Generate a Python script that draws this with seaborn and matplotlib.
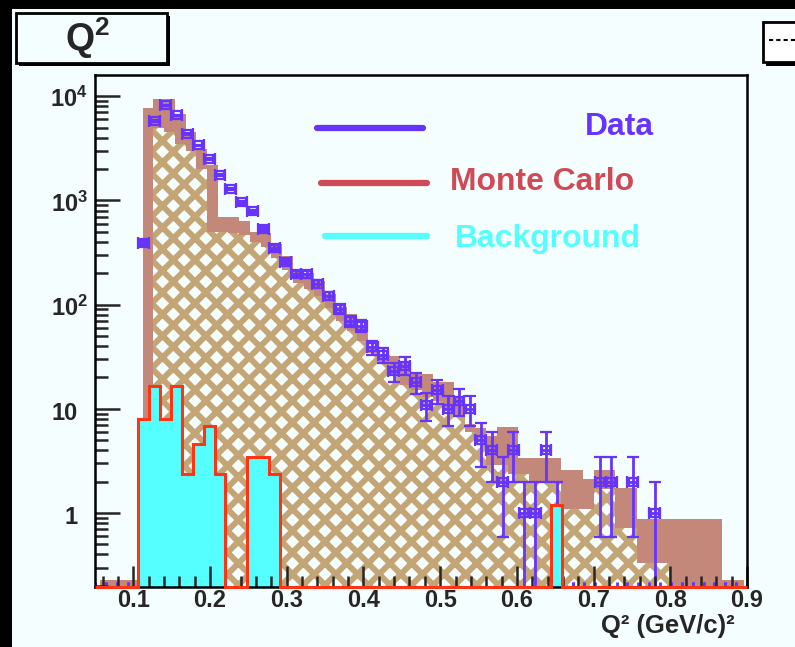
import numpy as np
import pandas as pd
import matplotlib
matplotlib.use("Agg")
import matplotlib.pyplot as plt
import matplotlib.transforms as mtransforms
from matplotlib.patches import Rectangle
from matplotlib.lines import Line2D
from matplotlib.ticker import MultipleLocator, LogLocator, NullFormatter, FormatStrFormatter
import seaborn as sns

# binning in Q^2 (GeV/c)^2
data_edges = np.linspace(0.05, 0.9, 61)
mc_edges = 0.056 + 0.014 * np.arange(61)

data_counts = [0, 0, 0, 0, 392, 5800, 8190, 6560, 4370, 3380,
               2480, 1740, 1295, 964, 784, 535, 351, 255, 197, 195,
               158, 122, 91, 70, 63, 39, 33, 23, 26, 18,
               11, 15, 10, 12, 10, 5, 4, 2, 4, 1,
               1, 4, 1, 0, 0, 0, 2, 2, 0, 2,
               0, 1, 0, 0, 0, 0, 0, 0, 0, 0]

mc_total = [0.23, 0.23, 0.23, 0.23, 7800, 9500, 9500, 6800, 4540, 3140,
            2170, 700, 690, 640, 500, 490, 384, 295, 210, 200,
            170, 126, 94, 81, 63, 40, 33, 32, 29, 21.5,
            21.5, 17.9, 17.9, 12.9, 7.1, 6.5, 5.5, 6.7, 6.7, 3.4,
            3.4, 3.4, 3.4, 2.57, 2.57, 2.1, 2.57, 2.57, 1.75, 1.75,
            0.87, 0.87, 0.87, 0.87, 0.87, 0.87, 0.87, 0.87, 0.23, 0.23]

mc_hatched = [0, 0, 0, 0, 0, 5000, 4500, 3500, 3000, 2000,
              500, 495, 490, 470, 400, 360, 280, 215, 160, 140,
              120, 92, 70, 56, 45, 34, 27, 21, 17, 15,
              13, 12, 10, 8.6, 6, 5.3, 2.9, 2.9, 2.35, 2.35,
              2.0, 2.0, 2.0, 1.09, 1.09, 1.09, 1.7, 1.7, 0.72, 0.72,
              0.33, 0.33, 0.33, 0, 0, 0, 0, 0, 0, 0]

background = [0, 0, 0, 0, 8.0, 16.6, 8.0, 16.6, 2.35, 4.6,
              6.9, 2.35, 0, 0, 3.45, 3.45, 2.35, 0, 0, 0,
              0, 0, 0, 0, 0, 0, 0, 0, 0, 0,
              0, 0, 0, 0, 0, 0, 0, 0, 0, 0,
              0, 0, 1.19, 0, 0, 0, 0, 0, 0, 0,
              0, 0, 0, 0, 0, 0, 0, 0, 0, 0]

CANVAS = "#f4fefe"
BROWN = "#c4887a"
TAN = "#c4a676"
DATA_C = "#6633ff"
MC_C = "#d04a55"
BG_C = "#55ffff"
BG_LINE = "#ff3414"

# dpi chosen so the "xx" hatch has the same cell size as the original crosshatch
DPI = 130
def pt(v):
    # sizes below were measured in pixels at 100 dpi
    return v * 100 / DPI

sns.set_style("ticks")
plt.rcParams["font.family"] = ["Liberation Sans", "DejaVu Sans"]
plt.rcParams["font.weight"] = "bold"
plt.rcParams["mathtext.fontset"] = "custom"
plt.rcParams["mathtext.rm"] = "Liberation Sans:bold"
plt.rcParams["mathtext.bf"] = "Liberation Sans:bold"
plt.rcParams["mathtext.it"] = "Liberation Sans:bold"
plt.rcParams["mathtext.default"] = "bf"
plt.rcParams["hatch.color"] = TAN
plt.rcParams["hatch.linewidth"] = pt(4.3)

W, H = 795, 647
fig = plt.figure(figsize=(W / DPI, H / DPI), dpi=DPI, facecolor=CANVAS)

def frect(x0, y0, x1, y1, **kw):
    return Rectangle((x0 / W, 1 - y1 / H), (x1 - x0) / W, (y1 - y0) / H,
                     transform=fig.transFigure, **kw)

# black border of the screenshot
fig.add_artist(frect(0, 0, W, 9, fc="black", ec="none"))
fig.add_artist(frect(0, 0, 12, H, fc="black", ec="none"))

ax = fig.add_axes([95 / W, 1 - 587 / H, 652 / W, 512 / H])
ax.set_facecolor(CANVAS)
ax.set_yscale("log")

data_c = 0.5 * (data_edges[:-1] + data_edges[1:])
mc_c = 0.5 * (mc_edges[:-1] + mc_edges[1:])
counts = np.array(data_counts, dtype=float)
bw = data_edges[1] - data_edges[0]
ylo, yhi = 0.195, 1.6e4

mc_df = pd.DataFrame({"q2": mc_c, "total": mc_total, "hatched": mc_hatched})
bg_df = pd.DataFrame({"q2": data_c, "bkg": background})

sns.histplot(data=mc_df, x="q2", weights="total", bins=list(mc_edges), element="step",
             fill=True, color=BROWN, alpha=1, linewidth=0, ax=ax, zorder=2)
sns.histplot(data=mc_df, x="q2", weights="hatched", bins=list(mc_edges), element="step",
             fill=True, color=CANVAS, edgecolor=TAN, hatch="xx", alpha=1, linewidth=0,
             ax=ax, zorder=3)

nz = counts > 0
ax.errorbar(data_c[nz], counts[nz], yerr=np.sqrt(counts[nz]), xerr=bw / 2,
            fmt="s", ms=pt(5.5), mfc="none", mec=DATA_C, mew=pt(1.6), color=DATA_C,
            elinewidth=pt(2), capsize=pt(4), capthick=pt(2), zorder=4)
ax.errorbar(data_c[~nz], np.full((~nz).sum(), ylo), xerr=bw / 2, fmt="none",
            ecolor=DATA_C, elinewidth=pt(2), capsize=pt(3.5), capthick=pt(2), zorder=4)

sns.histplot(data=bg_df, x="q2", weights="bkg", bins=list(data_edges), element="step",
             fill=True, color=BG_C, alpha=1, linewidth=0, ax=ax, zorder=5)
ax.stairs(np.clip(background, ylo, None), data_edges, baseline=None,
          color=BG_LINE, linewidth=pt(2.2), zorder=11, clip_on=False)

ax.set_xlim(0.05, 0.9)
ax.set_ylim(ylo, yhi)
ax.set_xlabel("")
ax.set_ylabel("")

for s in ax.spines.values():
    s.set_linewidth(pt(1.8))
    s.set_color("black")
    s.set_zorder(10)
ax.xaxis.set_zorder(9)
ax.yaxis.set_zorder(9)

ax.xaxis.set_major_locator(MultipleLocator(0.1))
ax.xaxis.set_minor_locator(MultipleLocator(0.02))
ax.xaxis.set_major_formatter(FormatStrFormatter("%.1f"))
ax.yaxis.set_major_locator(LogLocator(base=10))
ax.yaxis.set_minor_locator(LogLocator(base=10, subs=np.arange(2, 10)))
ax.yaxis.set_major_formatter(NullFormatter())
ax.yaxis.set_minor_formatter(NullFormatter())
ax.tick_params(axis="x", which="major", direction="in", length=pt(15), width=pt(1.8),
               labelsize=pt(17), pad=pt(1.5), top=False, bottom=True)
ax.tick_params(axis="x", which="minor", direction="in", length=pt(8), width=pt(1.8),
               top=False, bottom=True)
ax.tick_params(axis="y", which="major", direction="in", length=pt(18), width=pt(1.8),
               left=True, right=False)
ax.tick_params(axis="y", which="minor", direction="in", length=pt(9), width=pt(1.8),
               left=True, right=False)

ytr = mtransforms.blended_transform_factory(ax.transAxes, ax.transData) + \
    mtransforms.ScaledTranslation(0, -11 / DPI, fig.dpi_scale_trans)
for k in range(5):
    lab = "1" if k == 0 else ("10" if k == 1 else "$10^{%d}$" % k)
    xr = 78 if k < 2 else 88
    ax.text((xr - 95) / 652, 10 ** k, lab, transform=ytr, ha="right", va="baseline",
            fontsize=pt(17), fontweight="bold", clip_on=False)

fig.text(735 / W, 1 - 633 / H, "Q\u00b2 (GeV/c)\u00b2", ha="right", va="baseline",
         fontsize=pt(18.5), fontweight="bold")

# legend
leg = [("Data", DATA_C, 317, 423, 127.5, 585, 135),
       ("Monte Carlo", MC_C, 321, 427, 183, 450, 190),
       ("Background", BG_C, 325, 427, 236, 455, 247)]
for name, col, x0, x1, yl, xt, yt in leg:
    fig.add_artist(Line2D([x0 / W, x1 / W], [1 - yl / H] * 2, transform=fig.transFigure,
                          color=col, linewidth=pt(4.5)))
    fig.text(xt / W, 1 - yt / H, name, color=col, fontsize=pt(23), fontweight="bold",
             ha="left", va="baseline")

# title box
fig.add_artist(frect(19, 16, 170, 66, fc="black", ec="none"))
fig.add_artist(frect(16, 13, 167, 63, fc=CANVAS, ec="black", lw=pt(2)))
fig.text(88 / W, 1 - 51 / H, "Q$^{2}$", ha="center", va="baseline", fontsize=pt(27),
         fontweight="bold")

# partial stats box on the right edge
fig.add_artist(frect(766, 25, 800, 66, fc="black", ec="none"))
fig.add_artist(frect(763, 22, 800, 62, fc="white", ec="black", lw=pt(2)))
fig.add_artist(Line2D([769 / W, 795 / W], [1 - 40 / H] * 2, transform=fig.transFigure,
                      color="black", linewidth=pt(1.5), linestyle=(0, (2, 1.5))))

fig.savefig("out.png", dpi=DPI, facecolor=fig.get_facecolor())
